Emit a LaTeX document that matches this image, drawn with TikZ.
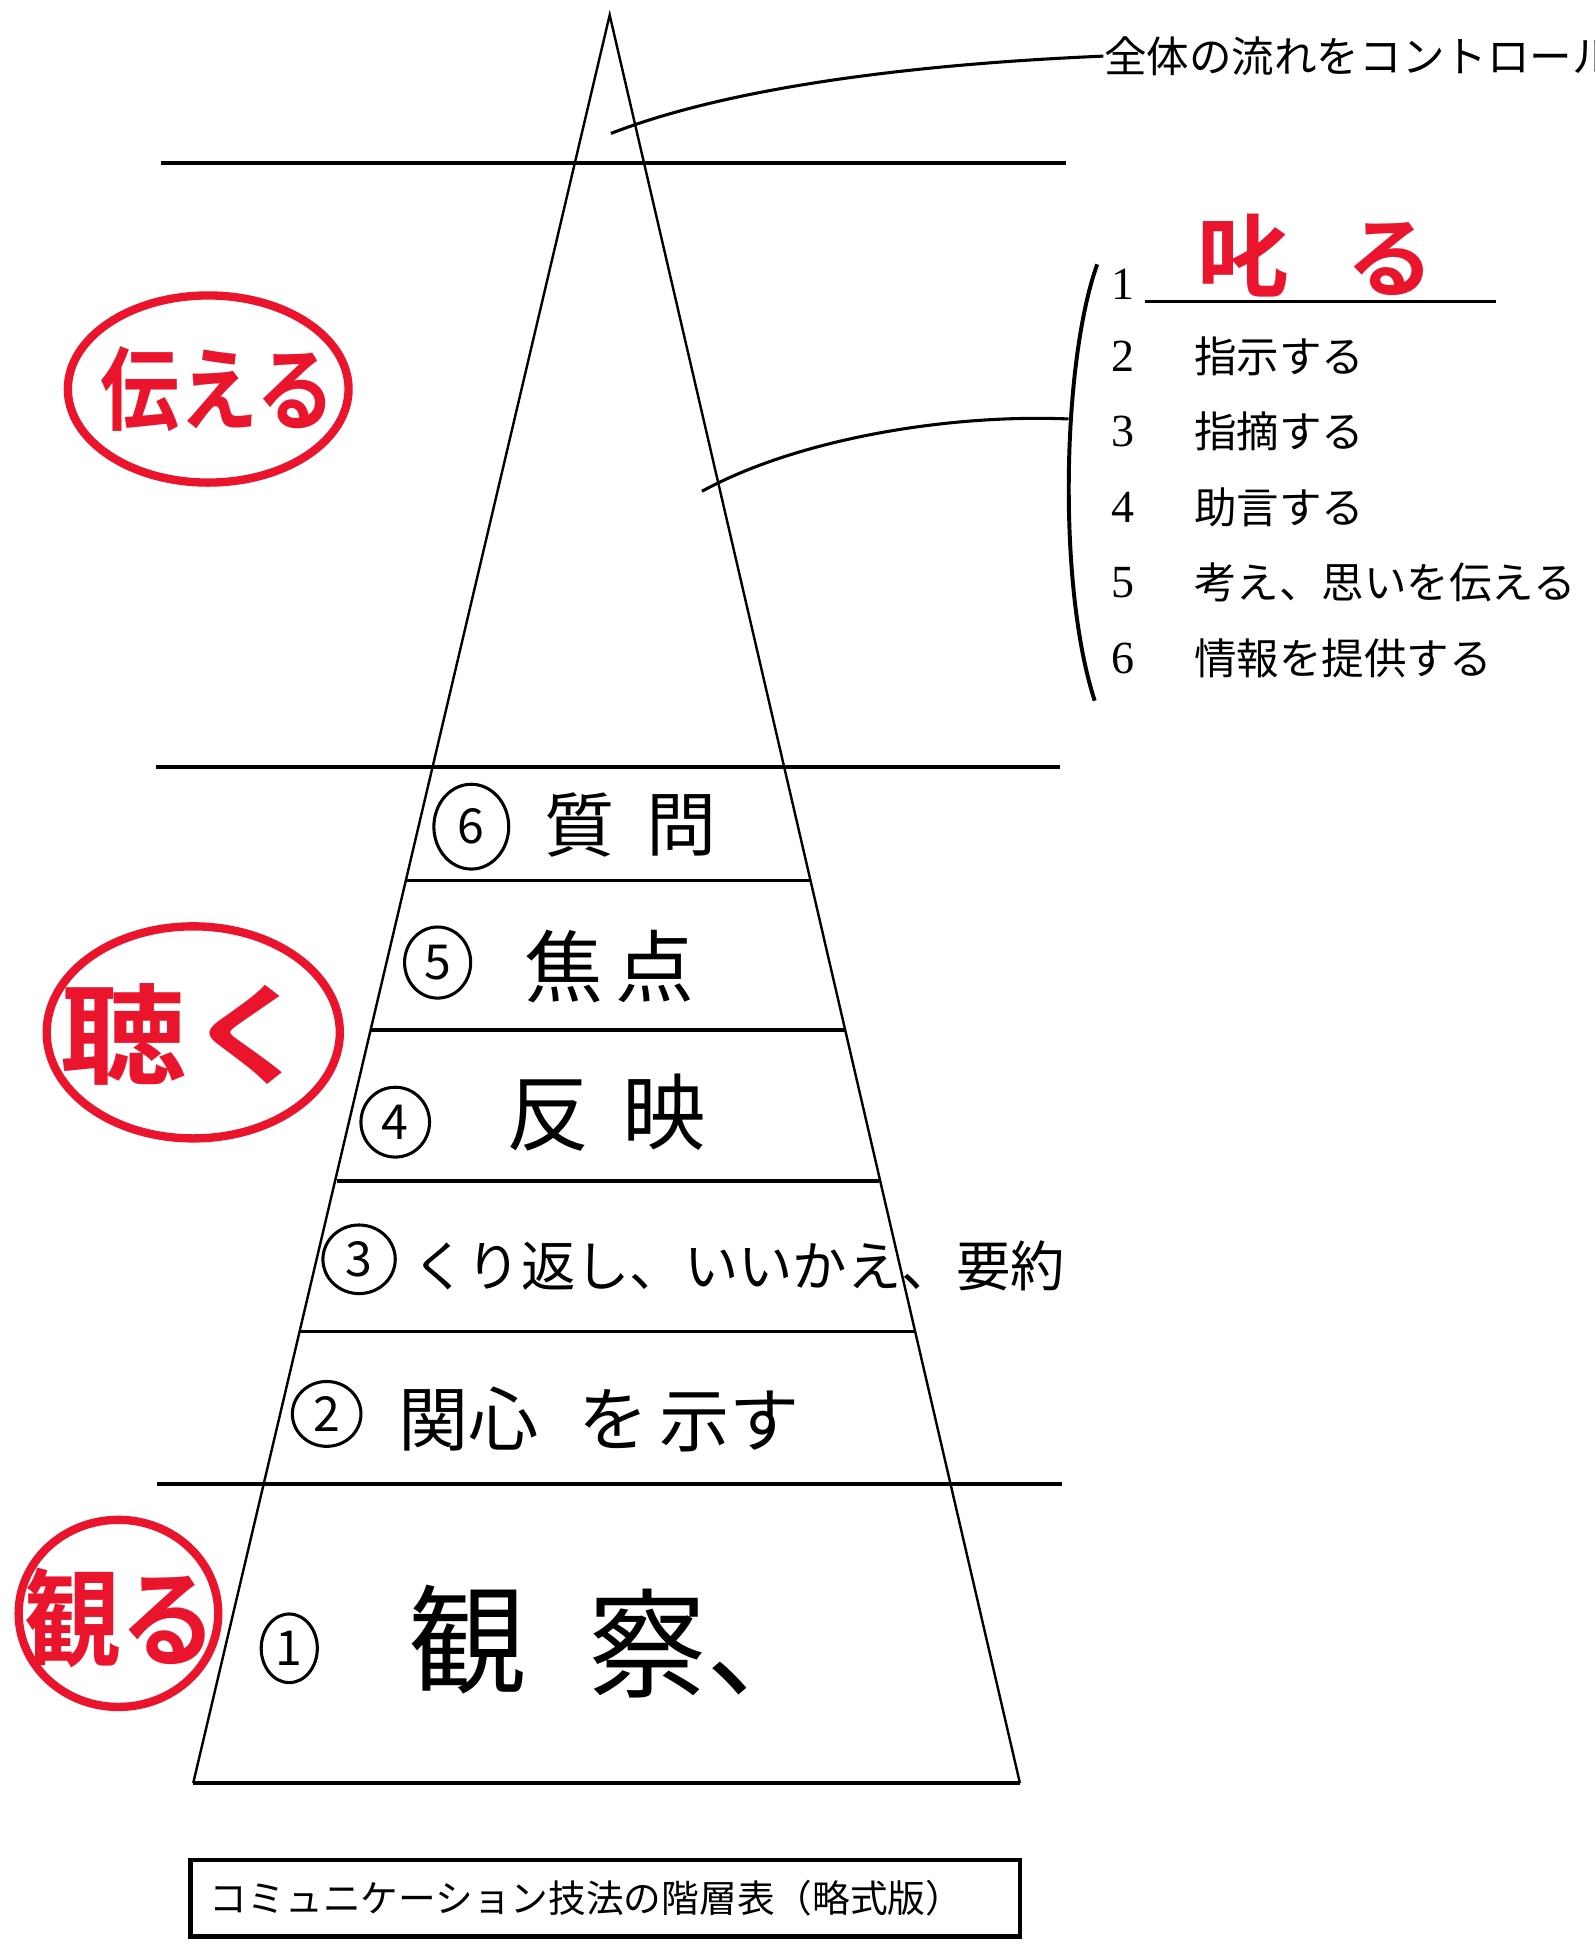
\documentclass[tikz,border=0pt]{standalone}
\usepackage{fontspec}
\usetikzlibrary{shapes.geometric}
\newfontfamily\jp{Noto Sans CJK JP}
\newfontfamily\jpb{Noto Sans CJK JP Bold}
\newfontfamily\digits{Liberation Serif}
\definecolor{penred}{RGB}{235,20,45}
\tikzset{
  edge/.style={line width=0.55pt},
  rule/.style={line width=0.9pt},
  inner/.style={line width=0.8pt},
  ring/.style={draw=penred, line width=1.9pt, ellipse, inner sep=0},
  redhand/.style={text=penred, inner sep=0, font=\jpb\fontsize{#1}{#1}\selectfont},
  hand/.style={inner sep=0, font=\jp\fontsize{#1}{#1}\selectfont},
  cnum/.style={draw, ellipse, line width=0.7pt, inner sep=0, font=\jp\fontsize{11}{11}\selectfont},
  printed/.style={inner sep=0, anchor=west, font=\jp\fontsize{9.7}{10}\selectfont},
  numlab/.style={inner sep=0, font=\digits\fontsize{10.5}{11}\selectfont},
  pen/.style={line width=0.7pt},
}
\begin{document}
\begin{tikzpicture}[x=0.01cm,y=-0.01cm]
\useasboundingbox (0,0) rectangle (1279,1568);
\clip (0,0) rectangle (1279,1568);
% triangle
\coordinate (apex) at (489,12);
\coordinate (bl) at (155,1430);
\coordinate (br) at (818,1430);
\draw[edge] (bl) -- (apex) -- (br);
\draw[rule] (bl) -- (br);
% long rules
\draw[rule] (129,131) -- (855,131);
\draw[rule] (125,615) -- (850,615);
\draw[rule] (126,1190) -- (852,1190);
% inner rules
\draw[inner] (326,706) -- (650,706);
\draw[inner] (297,826) -- (678,826);
\draw[inner] (270,947) -- (705,947);
\draw[inner] (241,1068) -- (733,1068);

% top label
\node[printed] (whole) at (885,45) {全体の流れをコントロール};
\coordinate (tp) at (490,107);
\draw[pen] (tp) .. controls (580,72) and (720,52) .. (whole.west);

% bracket list
\coordinate (bt) at (880,212);
\coordinate (bb) at (878,562);
\coordinate (bm) at (857,336);
\draw[pen, line width=0.9pt] (bt) .. controls (852,290) and (848,470) .. (bb);
\coordinate (mp) at (563,394);
\draw[pen] (mp) .. controls (640,352) and (760,332) .. (bm);

\node[numlab] (n1) at (901,228) {1};
\node[numlab] (n2) at (901,286) {2};
\node[numlab] (n3) at (901,346) {3};
\node[numlab] (n4) at (901,407) {4};
\node[numlab] (n5) at (901,467) {5};
\node[numlab] (n6) at (901,528) {6};
\node[redhand=21] (scold1) at (997,205) {叱};
\node[redhand=20] (scold2) at (1115,208) {る};
\coordinate (ul1) at (918,242);
\coordinate (ul2) at (1200,242);
\draw[line width=0.7pt] (ul1) -- (ul2);
\node[printed] (t2) at (957,286) {指示する};
\node[printed] (t3) at (957,346) {指摘する};
\node[printed] (t4) at (957,407) {助言する};
\node[printed] (t5) at (957,467) {考え、思いを伝える};
\node[printed] (t6) at (957,528) {情報を提供する};

% red circled labels
\node[ring, minimum width=2.25cm, minimum height=1.5cm] (r1) at (167,312) {};
\node[redhand=18, yscale=1.15] (r1t) at (175,312) {伝える};
\node[ring, minimum width=2.35cm, minimum height=1.7cm] (r2) at (155,828) {};
\node[redhand=25, xscale=1.15] (r2t) at (150,830) {聴く};
\node[ring, minimum width=1.6cm, minimum height=1.5cm] (r3) at (95,1294) {};
\node[redhand=22, yscale=1.1] (r3t) at (97,1298) {観る};

% handwritten entries
\node[cnum, minimum width=0.6cm, minimum height=0.68cm] (c6) at (378,663) {6};
\node[hand=16] (q1) at (465,662) {質};
\node[hand=16] (q2) at (547,662) {問};
\node[cnum, minimum width=0.53cm, minimum height=0.57cm] (c5) at (351,772) {5};
\node[hand=18] (f1) at (452,775) {焦};
\node[hand=18] (f2) at (525,775) {点};
\node[cnum, minimum width=0.55cm, minimum height=0.56cm] (c4) at (317,900) {4};
\node[hand=19] (h1) at (440,895) {反};
\node[hand=19] (h2) at (533,892) {映};
\node[cnum, minimum width=0.58cm, minimum height=0.55cm] (c3) at (288,1010) {3};
\node[hand=12.4, anchor=west] (k3) at (330,1015) {くり返し、いいかえ、要約};
\node[cnum, minimum width=0.55cm, minimum height=0.52cm] (c2) at (262,1134) {2};
\node[hand=16] (i1) at (376,1138) {関心};
\node[hand=16] (i2) at (492,1138) {を};
\node[hand=16] (i3) at (585,1140) {示す};
\node[cnum, minimum width=0.45cm, minimum height=0.55cm] (c1) at (232,1322) {1};
\node[hand=27] (o1) at (375,1315) {観};
\node[hand=27] (o2) at (567,1318) {察、};

% caption box
\node[draw, line width=1.0pt, minimum width=6.65cm, minimum height=0.61cm, inner sep=0,
      font=\jp\fontsize{8.6}{9}\selectfont] (cap) at (485.5,1522.5) {\hspace*{-0.3cm}コミュニケーション技法の階層表（略式版）};
\end{tikzpicture}
\end{document}
